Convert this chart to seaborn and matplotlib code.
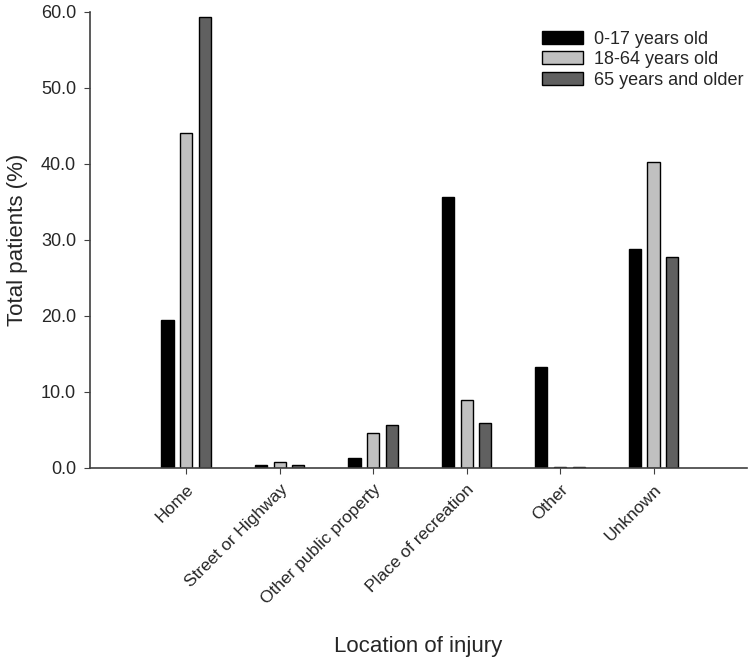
import pandas as pd
import matplotlib
matplotlib.use("Agg")
import matplotlib.pyplot as plt
import seaborn as sns

# ----------------------------
# data
# ----------------------------
locations = ["Home", "Street or Highway", "Other public property",
             "Place of recreation", "Other", "Unknown"]
age_groups = ["0-17 years old", "18-64 years old", "65 years and older"]

age_0_17 = [19.5, 0.4, 1.3, 35.7, 13.3, 28.8]
age_18_64 = [44.1, 0.8, 4.6, 8.9, 0.1, 40.3]
age_65_up = [59.3, 0.4, 5.7, 5.9, 0.1, 27.8]

df = pd.DataFrame({
    "location": locations * 3,
    "group": [age_groups[0]] * 6 + [age_groups[1]] * 6 + [age_groups[2]] * 6,
    "value": age_0_17 + age_18_64 + age_65_up,
})

sns.set_style("ticks")
plt.rcParams["font.family"] = ["Liberation Sans", "DejaVu Sans"]

fig = plt.figure(figsize=(7.5, 6.6), dpi=100)
ax = fig.add_axes([0.12, 0.291, 0.876, 0.691])

palette = ["#000000", "#c0c0c0", "#606060"]
sns.barplot(data=df, x="location", y="value", hue="group",
            order=locations, hue_order=age_groups, palette=palette,
            width=0.6, gap=0.35, edgecolor="black", linewidth=1,
            saturation=1, ax=ax)

ax.set_xlim(-1.03, 6.0)
ax.set_ylim(0, 60)
ax.set_yticks(range(0, 61, 10))
ax.set_yticklabels([f"{v:.1f}" for v in range(0, 61, 10)], fontsize=13)
ax.set_xticks(range(len(locations)))
ax.set_xticklabels(locations, rotation=45, ha="right",
                   rotation_mode="anchor", fontsize=12.5)

ax.set_ylabel("Total patients (%)", fontsize=16, labelpad=9)
ax.set_xlabel("Location of injury", fontsize=16, labelpad=21)

for side in ["top", "right"]:
    ax.spines[side].set_visible(False)
for side in ["left", "bottom"]:
    ax.spines[side].set_color("#404040")
    ax.spines[side].set_linewidth(1.2)
ax.tick_params(axis="both", direction="out", length=4, color="#404040",
               pad=6)

leg = ax.legend(loc="upper right", bbox_to_anchor=(1.006, 0.975), frameon=False,
                fontsize=13, handlelength=2.3, handleheight=0.75,
                labelspacing=0.2, handletextpad=0.6, borderaxespad=0.0)

fig.savefig("out.png", dpi=100)
